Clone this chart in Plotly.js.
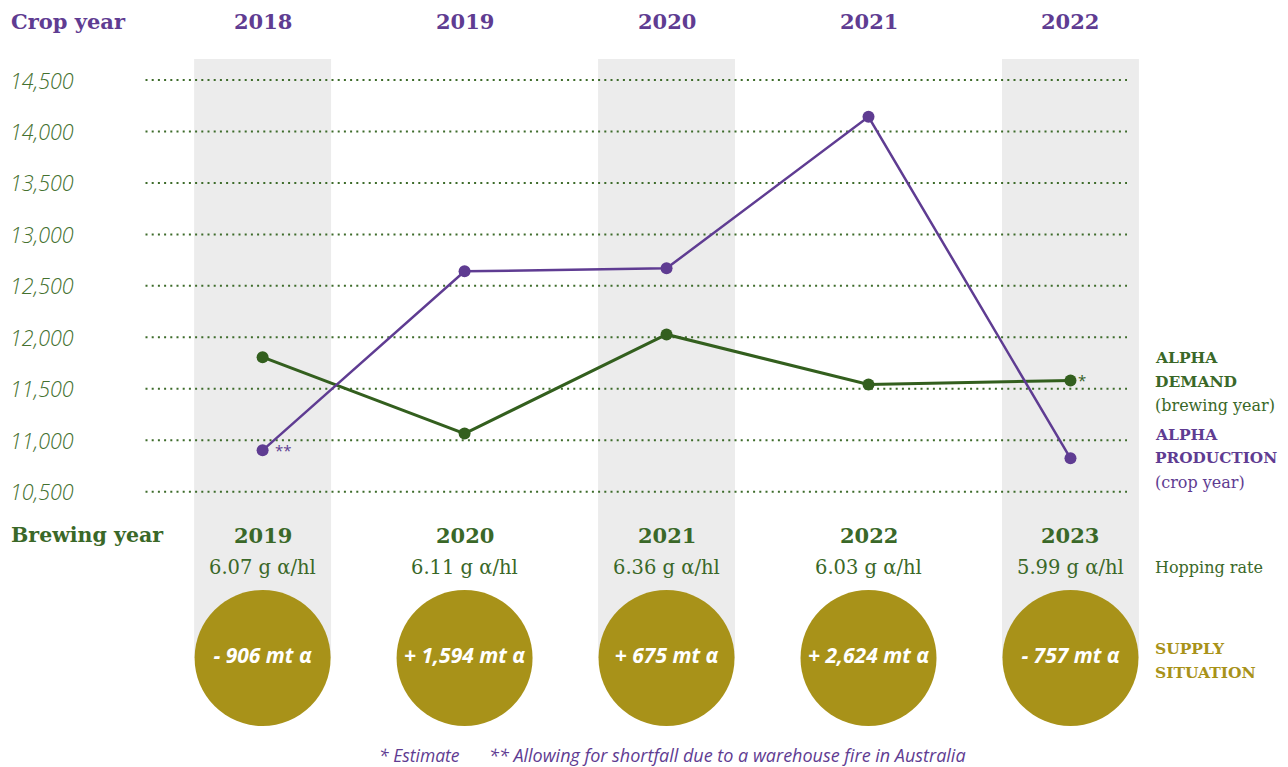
<!DOCTYPE html>
<html>
<head>
<meta charset="utf-8">
<script src="https://cdn.plot.ly/plotly-3.0.1.min.js"></script>
<style>html,body{margin:0;padding:0;background:#fff;}#chart{width:1288px;height:767px;}</style>
</head>
<body>
<div id="chart"></div>
<script>
// ---- data ----
const cropYears = ['2018', '2019', '2020', '2021', '2022'];
const brewingYears = ['2019', '2020', '2021', '2022', '2023'];
const alphaProduction = [10902, 12641, 12670, 14143, 10824];
const alphaDemand = [11807, 11065, 12028, 11541, 11580];
const hoppingRates = ['6.07 g α/hl', '6.11 g α/hl', '6.36 g α/hl', '6.03 g α/hl', '5.99 g α/hl'];
const supplySituation = ['- 906 mt α', '+ 1,594 mt α', '+ 675 mt α', '+ 2,624 mt α', '- 757 mt α'];
const yTicks = [10500, 11000, 11500, 12000, 12500, 13000, 13500, 14000, 14500];
const yTickText = ['10,500', '11,000', '11,500', '12,000', '12,500', '13,000', '13,500', '14,000', '14,500'];
const shadedColumns = [0, 2, 4];

// ---- styles ----
const PURPLE = '#5f3c92';
const GREEN = '#335f1e';
const GREEN_TXT = '#3a6828';
const GREEN_TICK = '#44712f';
const GOLD = '#a89219';
const GRAY = '#ececec';
const SERIF = 'DejaVu Serif, serif';
const SANS = 'Open Sans, sans-serif';

const idx = cropYears.map((_, i) => i);
const W = 1288, H = 767;
const pxPerUnitX = 201.97;
const x0px = 262.6;
const xRange = [-x0px / pxPerUnitX, (W - x0px) / pxPerUnitX];
const pxPerUnitY = (491.7 - 80) / 4000;
const yRange = [10500 - (H - 491.7) / pxPerUnitY, 14500 + 80 / pxPerUnitY];
const gridX0 = (145.5 - x0px) / pxPerUnitX, gridX1 = (1127 - x0px) / pxPerUnitX;

const traces = [
  {
    x: idx, y: alphaDemand, type: 'scatter', mode: 'lines+markers',
    line: {color: GREEN, width: 3}, marker: {color: GREEN, size: 12},
    hoverinfo: 'skip', showlegend: false
  },
  {
    x: idx, y: alphaProduction, type: 'scatter', mode: 'lines+markers',
    line: {color: PURPLE, width: 2.5}, marker: {color: PURPLE, size: 12},
    hoverinfo: 'skip', showlegend: false
  },
  {
    x: idx, y: idx.map(() => 658), yaxis: 'y2', type: 'scatter', mode: 'markers+text',
    marker: {color: GOLD, size: 136, line: {width: 0}},
    text: supplySituation, textposition: 'middle center',
    textfont: {family: SANS, size: 21, color: '#ffffff', weight: 'bold', style: 'italic'},
    hoverinfo: 'skip', showlegend: false
  }
];

const shapes = [];
shadedColumns.forEach(i => {
  shapes.push({type: 'rect', xref: 'x', yref: 'y2', x0: i - 0.339, x1: i + 0.339, y0: 59, y1: 658,
    fillcolor: GRAY, line: {width: 0}, layer: 'below'});
});
yTicks.forEach(v => {
  shapes.push({type: 'line', xref: 'x', yref: 'y', x0: gridX0, x1: gridX1, y0: v, y1: v,
    line: {color: '#3d6b2a', width: 2, dash: '2px,4.2px'}, layer: 'below'});
});

const annotations = [];
function ann(o) { annotations.push(Object.assign({showarrow: false, xanchor: 'center', yanchor: 'middle'}, o)); }

// y tick labels
yTicks.forEach((v, k) => ann({xref: 'paper', yref: 'y', x: 8 / W, y: v, xanchor: 'left', text: yTickText[k],
  font: {family: SANS, size: 21.5, color: GREEN_TICK, style: 'italic', weight: 300}}));

// header rows
ann({xref: 'paper', yref: 'y2', x: 9 / W, y: 21, xanchor: 'left', text: 'Crop year',
  font: {family: SERIF, size: 21, color: PURPLE, weight: 'bold'}});
cropYears.forEach((c, i) => ann({xref: 'x', yref: 'y2', x: i, y: 21, text: c,
  font: {family: SERIF, size: 21, color: PURPLE, weight: 'bold'}}));
ann({xref: 'paper', yref: 'y2', x: 9 / W, y: 535, xanchor: 'left', text: 'Brewing year',
  font: {family: SERIF, size: 20.5, color: GREEN_TXT, weight: 'bold'}});
brewingYears.forEach((c, i) => ann({xref: 'x', yref: 'y2', x: i, y: 535, text: c,
  font: {family: SERIF, size: 21, color: GREEN_TXT, weight: 'bold'}}));
hoppingRates.forEach((c, i) => ann({xref: 'x', yref: 'y2', x: i, y: 567, text: c,
  font: {family: SERIF, size: 19.5, color: GREEN_TXT}}));

// right side labels
const rx = 1153 / W;
function side(text, y, color, bold, size) {
  ann({xref: 'paper', yref: 'y2', x: rx, y: y, xanchor: 'left', text: text,
    font: {family: SERIF, size: size || 16, color: color, weight: bold ? 'bold' : 'normal'}});
}
side('ALPHA', 357, GREEN_TXT, true, 15.5);
side('DEMAND', 381, GREEN_TXT, true, 15.5);
side('(brewing year)', 405, GREEN_TXT, false, 16);
side('ALPHA', 434, PURPLE, true, 15.5);
side('PRODUCTION', 458, PURPLE, true, 15.3);
side('(crop year)', 482, PURPLE, false, 16);
side('Hopping rate', 567, GREEN_TXT, false, 16);
side('SUPPLY', 648, GOLD, true, 15.5);
side('SITUATION', 672, GOLD, true, 15.5);

// asterisks
ann({xref: 'x', yref: 'y', x: 0, y: alphaProduction[0], xshift: 21, yshift: 0, text: '**',
  font: {family: SANS, size: 15, color: PURPLE}});
ann({xref: 'x', yref: 'y', x: 4, y: alphaDemand[4], xshift: 12, yshift: 1, text: '*',
  font: {family: SANS, size: 15, color: GREEN}});

// footnote
ann({xref: 'paper', yref: 'y2', x: 377 / W, y: 755, xanchor: 'left', text: '* Estimate',
  font: {family: SANS, size: 17.5, color: PURPLE, style: 'italic'}});
ann({xref: 'paper', yref: 'y2', x: 487 / W, y: 755, xanchor: 'left', text: '** Allowing for shortfall due to a warehouse fire in Australia',
  font: {family: SANS, size: 18, color: PURPLE, style: 'italic'}});

const layout = {
  width: W, height: H,
  margin: {l: 0, r: 0, t: 0, b: 0, pad: 0},
  paper_bgcolor: '#ffffff', plot_bgcolor: 'rgba(0,0,0,0)',
  xaxis: {range: xRange, visible: false, fixedrange: true},
  yaxis: {range: yRange, visible: false, fixedrange: true},
  yaxis2: {range: [H, 0], overlaying: 'y', visible: false, fixedrange: true},
  shapes: shapes,
  annotations: annotations,
  showlegend: false
};

Plotly.newPlot('chart', traces, layout, {staticPlot: true, displayModeBar: false});
</script>
</body>
</html>
